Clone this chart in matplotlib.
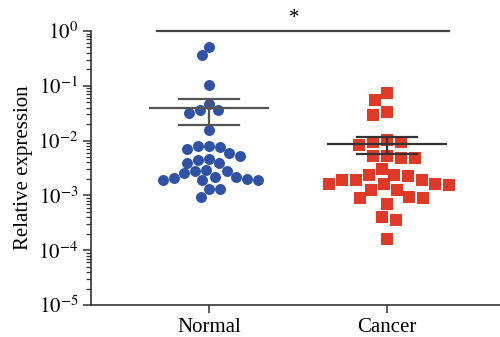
import numpy as np
import matplotlib
matplotlib.use("Agg")
import matplotlib.pyplot as plt

categories = ["Normal", "Cancer"]
normal_values = [0.517, 0.365, 0.102, 0.0362, 0.0323, 0.0362, 0.0471, 0.0156,
                 0.00787, 0.00787, 0.00694, 0.00774, 0.0053, 0.00586, 0.00443,
                 0.0039, 0.0039, 0.00456, 0.00282, 0.00253, 0.00217, 0.00202,
                 0.00191, 0.00189, 0.00191, 0.00206, 0.00219, 0.00282, 0.00291,
                 0.00129, 0.00129, 0.00092]
cancer_values = [0.0748, 0.0551, 0.0333, 0.0297, 0.00955, 0.00842, 0.01025,
                 0.00955, 0.0053, 0.00487, 0.00487, 0.0053, 0.00307, 0.00239,
                 0.00229, 0.00239, 0.00161, 0.00161, 0.00193, 0.00193, 0.00193,
                 0.00155, 0.00161, 0.00126, 0.00126, 0.00095, 0.00091, 0.00091,
                 0.000706, 0.000408, 0.000356, 0.00016]
ytick_labels = [r"$10^{-5}$", r"$10^{-4}$", r"$10^{-3}$", r"$10^{-2}$", r"$10^{-1}$", r"$10^{0}$"]
significance = "*"

plt.rcParams["font.family"] = ["Liberation Serif", "DejaVu Serif"]
plt.rcParams["mathtext.fontset"] = "stix"

fig = plt.figure(figsize=(5.0, 3.37), dpi=100)
ax = fig.add_axes([91/500, 32/337, 409/500, 274/337])
ax.set_yscale("log")
ax.set_ylim(1e-5, 1)
ax.set_xlim(-0.663, 1.635)

for s in ["top", "right"]:
    ax.spines[s].set_visible(False)
for s in ["left", "bottom"]:
    ax.spines[s].set_color("#333333")
    ax.spines[s].set_linewidth(1.2)

fig.canvas.draw()


def swarm_offsets(values, center, diam_px):
    """Simple beeswarm (top-down order): x data positions avoiding overlap in pixel space."""
    vals = np.asarray(values, dtype=float)
    ypx = ax.transData.transform(np.column_stack([np.full(len(vals), center), vals]))[:, 1]
    order = np.argsort(-ypx, kind="stable")
    placed = []
    xs_px = np.zeros(len(vals))
    for i in order:
        y = ypx[i]
        cands = [0.0]
        for (px, py) in placed:
            dy = y - py
            if abs(dy) < diam_px:
                dx = np.sqrt(diam_px**2 - dy**2)
                cands += [px + dx, px - dx]
        cands = sorted(cands, key=lambda c: (abs(c), c))
        for c in cands:
            ok = True
            for (px, py) in placed:
                if (c - px)**2 + (y - py)**2 < diam_px**2 - 1e-6:
                    ok = False
                    break
            if ok:
                xs_px[i] = c
                placed.append((c, y))
                break
    x0 = ax.transData.transform([[center, 1e-3]])[0, 0]
    inv = ax.transData.inverted()
    return np.array([inv.transform([[x0 + d, 1e-3]])[0, 0] for d in xs_px])


groups = [
    (normal_values, 0, "o", "#2F52A6", 7.9, 11.0),
    (cancer_values, 1, "s", "#E03A27", 8.6, 14.0),
]
for vals, pos, mk, col, ms, dpx in groups:
    xs = swarm_offsets(vals, pos, dpx)
    ax.plot(xs, vals, linestyle="none", marker=mk, color=col, markersize=ms,
            markeredgewidth=0, zorder=2)

for vals, pos, lc in [(normal_values, 0, "#555555"), (cancer_values, 1, "#333333")]:
    v = np.asarray(vals)
    m = v.mean()
    sem = v.std(ddof=1) / np.sqrt(len(v))
    ax.plot([pos - 0.333, pos + 0.333], [m, m], color=lc, lw=1.6, zorder=3)
    ax.plot([pos - 0.166, pos + 0.166], [m + sem, m + sem], color=lc, lw=1.6, zorder=3)
    ax.plot([pos - 0.166, pos + 0.166], [m - sem, m - sem], color=lc, lw=1.6, zorder=3)
    ax.plot([pos, pos], [m - sem, m + sem], color=lc, lw=1.6, zorder=3)

# significance bar
ax.plot([-0.292, 1.348], [1.0, 1.0], color="#444444", lw=1.6, clip_on=False)
ax.annotate(significance, xy=(0.478, 1.0), xycoords="data", xytext=(0, 2),
            textcoords="offset points", ha="center", va="bottom", fontsize=15,
            annotation_clip=False)

ax.set_xticks([0, 1])
ax.set_xticklabels(categories, fontsize=15)
ax.set_yticks([1e-5, 1e-4, 1e-3, 1e-2, 1e-1, 1])
ax.set_yticklabels(ytick_labels, fontsize=15)
ax.tick_params(axis="both", which="major", direction="out", length=6, width=1.1,
               color="#333333", pad=3)
ax.tick_params(axis="y", which="minor", direction="out", length=3.5, width=0.9,
               color="#333333")
ax.set_ylabel("Relative expression", fontsize=15, labelpad=4)

fig.savefig("out.png", dpi=100)
